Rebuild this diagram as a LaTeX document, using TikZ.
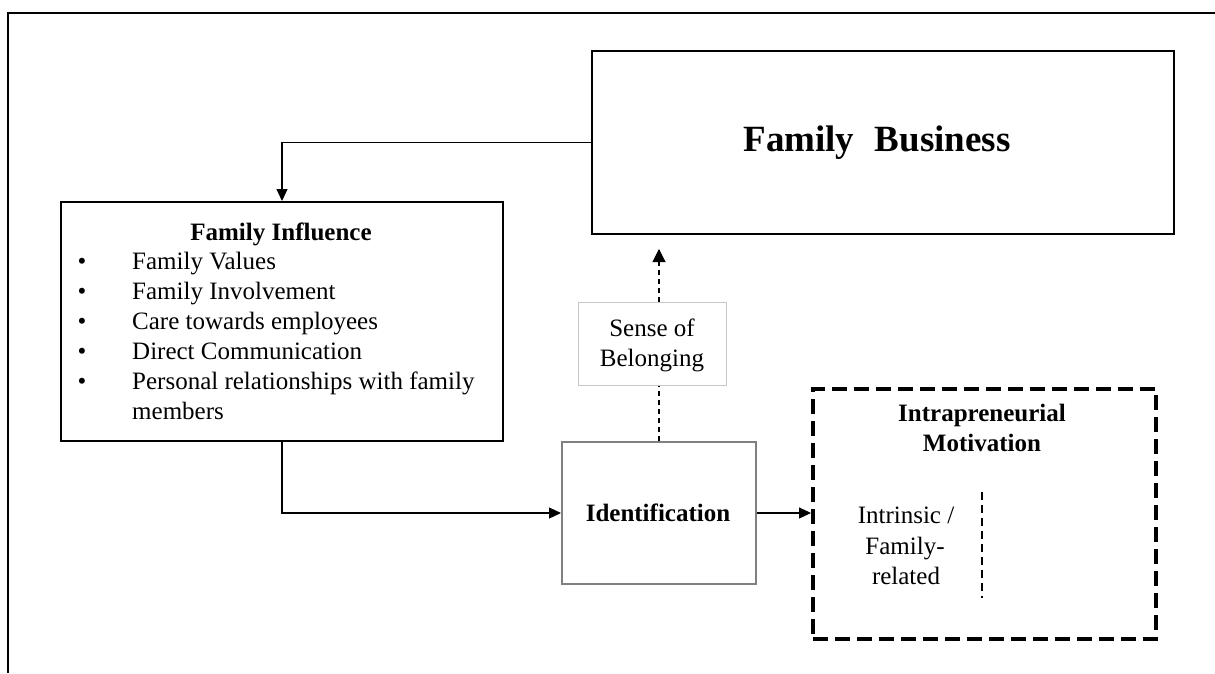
\documentclass[tikz,border=0pt]{standalone}
\usepackage{fontspec}
\setmainfont{Liberation Serif}
\usetikzlibrary{arrows.meta,calc}
\newcommand{\txtsize}{\fontsize{25}{30}\selectfont}
\begin{document}
\begin{tikzpicture}[x=1pt,y=-1pt,
  box/.style={draw=black,line width=2pt,inner sep=0pt,anchor=north west},
  greybox/.style={draw=black!50,line width=2pt,inner sep=0pt,anchor=north west},
  lightbox/.style={draw=black!22,line width=1pt,inner sep=0pt,anchor=north west},
  dashbox/.style={draw=black,line width=4pt,dash pattern=on 15pt off 7pt,inner sep=0pt,anchor=north west},
  conn/.style={line width=1.2pt,-{Triangle[length=12pt,width=11pt]}},
  dconn/.style={line width=1.1pt,dash pattern=on 5pt off 4pt},
  lbl/.style={inner sep=0pt,anchor=base,font=\txtsize},
  blbl/.style={inner sep=0pt,anchor=base,font=\txtsize\bfseries},
  item/.style={inner sep=0pt,anchor=base west,font=\txtsize},
]
\useasboundingbox (0,0) rectangle (1215,673);

% outer frame
\draw[line width=2pt] (8,673) -- (8,13) -- (1215,13);

% boxes
\node[box, minimum width=582pt, minimum height=183pt] (fb) at (591,50) {};
\node[box, minimum width=442pt, minimum height=239pt] (fi) at (60,201) {};
\node[greybox, minimum width=194pt, minimum height=142pt] (id) at (561,441) {};
\node[lightbox, minimum width=148pt, minimum height=83pt] (sob) at (578,302) {};
\node[dashbox, minimum width=343pt, minimum height=250pt] (im) at (811,387) {};

% texts
\node[inner sep=0pt,anchor=base,font=\fontsize{37}{44}\selectfont\bfseries] (fbt) at (877,151) {Family\hspace{0.3em} Business};

\node[blbl] (fih) at (281,240) {Family Influence};
\foreach \t [count=\i] in {Family Values,Family Involvement,Care towards employees,Direct Communication,Personal relationships with family} {
  \node[lbl] (b\i) at (82,{239+30*\i}) {\textbullet};
  \node[item] (t\i) at (132,{239+30*\i}) {\t};
}
\node[item] (t6) at (132,419) {members};

\node[blbl] (idt) at (658,521) {Identification};

\node[lbl] (sob1) at (652,336) {Sense of};
\node[lbl] (sob2) at (652,366) {Belonging};

\node[blbl] (im1) at (982,421) {Intrapreneurial};
\node[blbl] (im2) at (982,451) {Motivation};
\node[lbl] (in1) at (906,523) {Intrinsic /};
\node[lbl] (in2) at (905,554) {Family-};
\node[lbl] (in3) at (906,584) {related};

\coordinate (dv1) at (982,492);
\coordinate (dv2) at (982,598);
\draw[line width=1.4pt,dash pattern=on 8pt off 5pt] (dv1) -- (dv2);

% connectors
\draw[conn] (fb.west) -| (fi.north);
\draw[conn] (fi.south) |- (id.west);
\draw[conn] (id.east) -- (id.east -| im.west);
\draw[dconn] (id.north) -- (id.north |- sob.south);
\coordinate (tip) at ($(id.north |- fb.south)+(0,14)$);
\draw[dconn] (id.north |- sob.north) -- (tip);
\draw[-{Triangle[length=13pt,width=13pt]},line width=1.1pt] ($(tip)+(0,1)$) -- (tip);
\end{tikzpicture}
\end{document}
